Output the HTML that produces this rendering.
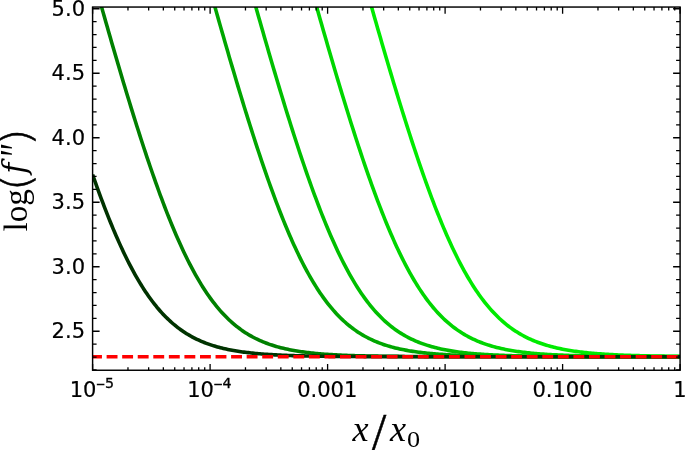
<!DOCTYPE html>
<html><head><meta charset="utf-8"><title>plot</title><style>html,body{margin:0;padding:0;background:#fff}svg{display:block}</style></head><body>
<svg width="685" height="450" viewBox="0 0 685 450">
<rect width="685" height="450" fill="#fff"/>
<defs><clipPath id="c"><rect x="92.60" y="7.05" width="587.50" height="363.20"/></clipPath></defs>
<g clip-path="url(#c)" fill="none" stroke-width="3.6" stroke-linejoin="round">
<path d="M361.38,-29.30 L362.85,-24.03 L364.32,-18.78 L365.79,-13.53 L367.26,-8.30 L368.73,-3.08 L370.19,2.12 L371.66,7.31 L373.13,12.48 L374.60,17.64 L376.07,22.78 L377.54,27.90 L379.01,33.01 L380.48,38.09 L381.94,43.16 L383.41,48.21 L384.88,53.24 L386.35,58.24 L387.82,63.23 L389.29,68.19 L390.76,73.13 L392.23,78.04 L393.69,82.93 L395.16,87.80 L396.63,92.63 L398.10,97.44 L399.57,102.22 L401.04,106.98 L402.51,111.70 L403.98,116.39 L405.44,121.05 L406.91,125.67 L408.38,130.27 L409.85,134.82 L411.32,139.34 L412.79,143.83 L414.26,148.28 L415.73,152.69 L417.19,157.05 L418.66,161.38 L420.13,165.67 L421.60,169.91 L423.07,174.11 L424.54,178.27 L426.01,182.38 L427.48,186.45 L428.94,190.46 L430.41,194.43 L431.88,198.35 L433.35,202.22 L434.82,206.04 L436.29,209.81 L437.76,213.52 L439.23,217.19 L440.69,220.79 L442.16,224.35 L443.63,227.85 L445.10,231.29 L446.57,234.68 L448.04,238.01 L449.51,241.28 L450.98,244.50 L452.44,247.65 L453.91,250.75 L455.38,253.79 L456.85,256.77 L458.32,259.69 L459.79,262.56 L461.26,265.36 L462.73,268.11 L464.19,270.79 L465.66,273.42 L467.13,275.98 L468.60,278.49 L470.07,280.94 L471.54,283.33 L473.01,285.67 L474.48,287.94 L475.94,290.16 L477.41,292.32 L478.88,294.43 L480.35,296.48 L481.82,298.48 L483.29,300.42 L484.76,302.31 L486.23,304.15 L487.69,305.93 L489.16,307.67 L490.63,309.35 L492.10,310.98 L493.57,312.57 L495.04,314.11 L496.51,315.60 L497.98,317.04 L499.44,318.44 L500.91,319.80 L502.38,321.11 L503.85,322.39 L505.32,323.62 L506.79,324.81 L508.26,325.96 L509.73,327.07 L511.19,328.15 L512.66,329.19 L514.13,330.20 L515.60,331.17 L517.07,332.10 L518.54,333.01 L520.01,333.88 L521.48,334.73 L522.94,335.54 L524.41,336.33 L525.88,337.08 L527.35,337.82 L528.82,338.52 L530.29,339.20 L531.76,339.85 L533.23,340.48 L534.69,341.09 L536.16,341.68 L537.63,342.24 L539.10,342.78 L540.57,343.31 L542.04,343.81 L543.51,344.30 L544.98,344.76 L546.44,345.21 L547.91,345.65 L549.38,346.06 L550.85,346.46 L552.32,346.85 L553.79,347.22 L555.26,347.58 L556.73,347.92 L558.19,348.25 L559.66,348.57 L561.13,348.88 L562.60,349.17 L564.07,349.46 L565.54,349.73 L567.01,349.99 L568.48,350.24 L569.94,350.49 L571.41,350.72 L572.88,350.95 L574.35,351.16 L575.82,351.37 L577.29,351.57 L578.76,351.76 L580.23,351.95 L581.69,352.13 L583.16,352.30 L584.63,352.46 L586.10,352.62 L587.57,352.77 L589.04,352.92 L590.51,353.06 L591.98,353.20 L593.44,353.33 L594.91,353.45 L596.38,353.58 L597.85,353.69 L599.32,353.80 L600.79,353.91 L602.26,354.02 L603.73,354.12 L605.19,354.21 L606.66,354.31 L608.13,354.39 L609.60,354.48 L611.07,354.56 L612.54,354.64 L614.01,354.72 L615.48,354.79 L616.94,354.86 L618.41,354.93 L619.88,355.00 L621.35,355.06 L622.82,355.12 L624.29,355.18 L625.76,355.24 L627.23,355.29 L628.69,355.35 L630.16,355.40 L631.63,355.45 L633.10,355.49 L634.57,355.54 L636.04,355.58 L637.51,355.62 L638.98,355.66 L640.44,355.70 L641.91,355.74 L643.38,355.78 L644.85,355.81 L646.32,355.85 L647.79,355.88 L649.26,355.91 L650.73,355.94 L652.19,355.97 L653.66,356.00 L655.13,356.02 L656.60,356.05 L658.07,356.07 L659.54,356.10 L661.01,356.12 L662.48,356.14 L663.94,356.17 L665.41,356.19 L666.88,356.21 L668.35,356.23 L669.82,356.24 L671.29,356.26 L672.76,356.28 L674.23,356.30 L675.69,356.31 L677.16,356.33 L678.63,356.34 L680.10,356.36" stroke="#00eb00"/>
<path d="M307.04,-27.35 L308.51,-22.07 L309.98,-16.81 L311.44,-11.56 L312.91,-6.32 L314.38,-1.10 L315.85,4.11 L317.32,9.30 L318.79,14.48 L320.26,19.64 L321.73,24.79 L323.19,29.92 L324.66,35.03 L326.13,40.12 L327.60,45.20 L329.07,50.25 L330.54,55.28 L332.01,60.30 L333.48,65.29 L334.94,70.25 L336.41,75.20 L337.88,80.12 L339.35,85.02 L340.82,89.88 L342.29,94.73 L343.76,99.54 L345.23,104.33 L346.69,109.09 L348.16,113.81 L349.63,118.51 L351.10,123.17 L352.57,127.81 L354.04,132.40 L355.51,136.96 L356.98,141.49 L358.44,145.98 L359.91,150.43 L361.38,154.84 L362.85,159.21 L364.32,163.55 L365.79,167.84 L367.26,172.08 L368.73,176.29 L370.19,180.44 L371.66,184.56 L373.13,188.62 L374.60,192.64 L376.07,196.61 L377.54,200.53 L379.01,204.40 L380.48,208.22 L381.94,211.98 L383.41,215.70 L384.88,219.36 L386.35,222.96 L387.82,226.51 L389.29,230.01 L390.76,233.45 L392.23,236.83 L393.69,240.15 L395.16,243.42 L396.63,246.63 L398.10,249.78 L399.57,252.87 L401.04,255.90 L402.51,258.87 L403.98,261.79 L405.44,264.64 L406.91,267.43 L408.38,270.16 L409.85,272.84 L411.32,275.45 L412.79,278.01 L414.26,280.50 L415.73,282.94 L417.19,285.31 L418.66,287.63 L420.13,289.89 L421.60,292.10 L423.07,294.24 L424.54,296.33 L426.01,298.37 L427.48,300.35 L428.94,302.27 L430.41,304.14 L431.88,305.96 L433.35,307.73 L434.82,309.44 L436.29,311.11 L437.76,312.72 L439.23,314.29 L440.69,315.81 L442.16,317.28 L443.63,318.70 L445.10,320.08 L446.57,321.42 L448.04,322.71 L449.51,323.96 L450.98,325.17 L452.44,326.34 L453.91,327.47 L455.38,328.56 L456.85,329.62 L458.32,330.64 L459.79,331.62 L461.26,332.57 L462.73,333.49 L464.19,334.37 L465.66,335.23 L467.13,336.05 L468.60,336.84 L470.07,337.61 L471.54,338.34 L473.01,339.05 L474.48,339.74 L475.94,340.39 L477.41,341.03 L478.88,341.64 L480.35,342.23 L481.82,342.79 L483.29,343.34 L484.76,343.86 L486.23,344.36 L487.69,344.85 L489.16,345.31 L490.63,345.76 L492.10,346.19 L493.57,346.61 L495.04,347.00 L496.51,347.39 L497.98,347.76 L499.44,348.11 L500.91,348.45 L502.38,348.78 L503.85,349.09 L505.32,349.39 L506.79,349.68 L508.26,349.96 L509.73,350.23 L511.19,350.48 L512.66,350.73 L514.13,350.96 L515.60,351.19 L517.07,351.41 L518.54,351.62 L520.01,351.82 L521.48,352.01 L522.94,352.20 L524.41,352.38 L525.88,352.55 L527.35,352.71 L528.82,352.87 L530.29,353.02 L531.76,353.17 L533.23,353.31 L534.69,353.44 L536.16,353.57 L537.63,353.69 L539.10,353.81 L540.57,353.92 L542.04,354.03 L543.51,354.14 L544.98,354.24 L546.44,354.33 L547.91,354.43 L549.38,354.52 L550.85,354.60 L552.32,354.68 L553.79,354.76 L555.26,354.84 L556.73,354.91 L558.19,354.98 L559.66,355.05 L561.13,355.11 L562.60,355.17 L564.07,355.23 L565.54,355.29 L567.01,355.34 L568.48,355.40 L569.94,355.45 L571.41,355.50 L572.88,355.54 L574.35,355.59 L575.82,355.63 L577.29,355.67 L578.76,355.71 L580.23,355.75 L581.69,355.79 L583.16,355.82 L584.63,355.86 L586.10,355.89 L587.57,355.92 L589.04,355.95 L590.51,355.98 L591.98,356.01 L593.44,356.03 L594.91,356.06 L596.38,356.08 L597.85,356.11 L599.32,356.13 L600.79,356.15 L602.26,356.17 L603.73,356.19 L605.19,356.21 L606.66,356.23 L608.13,356.25 L609.60,356.27 L611.07,356.28 L612.54,356.30 L614.01,356.32 L615.48,356.33 L616.94,356.34 L618.41,356.36 L619.88,356.37 L621.35,356.38 L622.82,356.40 L624.29,356.41 L625.76,356.42 L627.23,356.43 L628.69,356.44 L630.16,356.45 L631.63,356.46 L633.10,356.47 L634.57,356.48 L636.04,356.49 L637.51,356.50 L638.98,356.51 L640.44,356.51 L641.91,356.52 L643.38,356.53 L644.85,356.54 L646.32,356.54 L647.79,356.55 L649.26,356.55 L650.73,356.56 L652.19,356.57 L653.66,356.57 L655.13,356.58 L656.60,356.58 L658.07,356.59 L659.54,356.59 L661.01,356.60 L662.48,356.60 L663.94,356.61 L665.41,356.61 L666.88,356.61 L668.35,356.62 L669.82,356.62 L671.29,356.63 L672.76,356.63 L674.23,356.63 L675.69,356.64 L677.16,356.64 L678.63,356.64 L680.10,356.64" stroke="#00d600"/>
<path d="M245.35,-30.46 L246.82,-25.18 L248.29,-19.90 L249.76,-14.64 L251.23,-9.39 L252.69,-4.16 L254.16,1.06 L255.63,6.27 L257.10,11.46 L258.57,16.64 L260.04,21.80 L261.51,26.94 L262.98,32.07 L264.44,37.18 L265.91,42.27 L267.38,47.34 L268.85,52.39 L270.32,57.42 L271.79,62.43 L273.26,67.41 L274.73,72.38 L276.19,77.32 L277.66,82.23 L279.13,87.12 L280.60,91.99 L282.07,96.83 L283.54,101.64 L285.01,106.42 L286.48,111.17 L287.94,115.89 L289.41,120.58 L290.88,125.24 L292.35,129.86 L293.82,134.45 L295.29,139.00 L296.76,143.52 L298.23,148.00 L299.69,152.44 L301.16,156.84 L302.63,161.21 L304.10,165.53 L305.57,169.81 L307.04,174.04 L308.51,178.23 L309.98,182.38 L311.44,186.48 L312.91,190.53 L314.38,194.54 L315.85,198.49 L317.32,202.40 L318.79,206.26 L320.26,210.06 L321.73,213.81 L323.19,217.51 L324.66,221.15 L326.13,224.74 L327.60,228.28 L329.07,231.76 L330.54,235.18 L332.01,238.54 L333.48,241.85 L334.94,245.10 L336.41,248.29 L337.88,251.42 L339.35,254.49 L340.82,257.50 L342.29,260.46 L343.76,263.35 L345.23,266.18 L346.69,268.96 L348.16,271.67 L349.63,274.32 L351.10,276.92 L352.57,279.45 L354.04,281.92 L355.51,284.34 L356.98,286.69 L358.44,288.99 L359.91,291.23 L361.38,293.41 L362.85,295.54 L364.32,297.61 L365.79,299.62 L367.26,301.58 L368.73,303.48 L370.19,305.33 L371.66,307.13 L373.13,308.88 L374.60,310.57 L376.07,312.21 L377.54,313.81 L379.01,315.35 L380.48,316.85 L381.94,318.30 L383.41,319.71 L384.88,321.07 L386.35,322.39 L387.82,323.66 L389.29,324.89 L390.76,326.09 L392.23,327.24 L393.69,328.35 L395.16,329.42 L396.63,330.46 L398.10,331.46 L399.57,332.43 L401.04,333.37 L402.51,334.27 L403.98,335.13 L405.44,335.97 L406.91,336.78 L408.38,337.56 L409.85,338.30 L411.32,339.03 L412.79,339.72 L414.26,340.39 L415.73,341.04 L417.19,341.66 L418.66,342.25 L420.13,342.83 L421.60,343.38 L423.07,343.91 L424.54,344.42 L426.01,344.92 L427.48,345.39 L428.94,345.84 L430.41,346.28 L431.88,346.70 L433.35,347.10 L434.82,347.49 L436.29,347.86 L437.76,348.22 L439.23,348.57 L440.69,348.90 L442.16,349.21 L443.63,349.52 L445.10,349.81 L446.57,350.09 L448.04,350.36 L449.51,350.62 L450.98,350.87 L452.44,351.10 L453.91,351.33 L455.38,351.55 L456.85,351.76 L458.32,351.96 L459.79,352.16 L461.26,352.34 L462.73,352.52 L464.19,352.69 L465.66,352.86 L467.13,353.02 L468.60,353.17 L470.07,353.31 L471.54,353.45 L473.01,353.58 L474.48,353.71 L475.94,353.83 L477.41,353.95 L478.88,354.07 L480.35,354.17 L481.82,354.28 L483.29,354.38 L484.76,354.47 L486.23,354.56 L487.69,354.65 L489.16,354.73 L490.63,354.82 L492.10,354.89 L493.57,354.97 L495.04,355.04 L496.51,355.11 L497.98,355.17 L499.44,355.23 L500.91,355.29 L502.38,355.35 L503.85,355.41 L505.32,355.46 L506.79,355.51 L508.26,355.56 L509.73,355.61 L511.19,355.65 L512.66,355.69 L514.13,355.74 L515.60,355.77 L517.07,355.81 L518.54,355.85 L520.01,355.88 L521.48,355.92 L522.94,355.95 L524.41,355.98 L525.88,356.01 L527.35,356.04 L528.82,356.06 L530.29,356.09 L531.76,356.12 L533.23,356.14 L534.69,356.16 L536.16,356.18 L537.63,356.20 L539.10,356.23 L540.57,356.24 L542.04,356.26 L543.51,356.28 L544.98,356.30 L546.44,356.31 L547.91,356.33 L549.38,356.35 L550.85,356.36 L552.32,356.37 L553.79,356.39 L555.26,356.40 L556.73,356.41 L558.19,356.42 L559.66,356.44 L561.13,356.45 L562.60,356.46 L564.07,356.47 L565.54,356.48 L567.01,356.49 L568.48,356.49 L569.94,356.50 L571.41,356.51 L572.88,356.52 L574.35,356.53 L575.82,356.53 L577.29,356.54 L578.76,356.55 L580.23,356.55 L581.69,356.56 L583.16,356.57 L584.63,356.57 L586.10,356.58 L587.57,356.58 L589.04,356.59 L590.51,356.59 L591.98,356.60 L593.44,356.60 L594.91,356.61 L596.38,356.61 L597.85,356.61 L599.32,356.62 L600.79,356.62 L602.26,356.63 L603.73,356.63 L605.19,356.63 L606.66,356.64 L608.13,356.64 L609.60,356.64 L611.07,356.64 L612.54,356.65 L614.01,356.65 L615.48,356.65 L616.94,356.65 L618.41,356.66 L619.88,356.66 L621.35,356.66 L622.82,356.66 L624.29,356.66 L625.76,356.67 L627.23,356.67 L628.69,356.67 L630.16,356.67 L631.63,356.67 L633.10,356.68 L634.57,356.68 L636.04,356.68 L637.51,356.68 L638.98,356.68 L640.44,356.68 L641.91,356.68 L643.38,356.68 L644.85,356.69 L646.32,356.69 L647.79,356.69 L649.26,356.69 L650.73,356.69 L652.19,356.69 L653.66,356.69 L655.13,356.69 L656.60,356.69 L658.07,356.70 L659.54,356.70 L661.01,356.70 L662.48,356.70 L663.94,356.70 L665.41,356.70 L666.88,356.70 L668.35,356.70 L669.82,356.70 L671.29,356.70 L672.76,356.70 L674.23,356.70 L675.69,356.70 L677.16,356.70 L678.63,356.70 L680.10,356.70" stroke="#00bf00"/>
<path d="M204.23,-31.32 L205.69,-26.03 L207.16,-20.75 L208.63,-15.49 L210.10,-10.24 L211.57,-5.00 L213.04,0.23 L214.51,5.44 L215.98,10.63 L217.44,15.81 L218.91,20.98 L220.38,26.12 L221.85,31.25 L223.32,36.37 L224.79,41.46 L226.26,46.54 L227.73,51.59 L229.19,56.63 L230.66,61.64 L232.13,66.63 L233.60,71.60 L235.07,76.55 L236.54,81.47 L238.01,86.36 L239.48,91.23 L240.94,96.08 L242.41,100.89 L243.88,105.68 L245.35,110.44 L246.82,115.16 L248.29,119.86 L249.76,124.52 L251.23,129.15 L252.69,133.75 L254.16,138.31 L255.63,142.84 L257.10,147.32 L258.57,151.77 L260.04,156.18 L261.51,160.56 L262.98,164.89 L264.44,169.17 L265.91,173.42 L267.38,177.62 L268.85,181.77 L270.32,185.88 L271.79,189.94 L273.26,193.96 L274.73,197.92 L276.19,201.84 L277.66,205.71 L279.13,209.52 L280.60,213.28 L282.07,216.99 L283.54,220.65 L285.01,224.25 L286.48,227.79 L287.94,231.28 L289.41,234.71 L290.88,238.09 L292.35,241.40 L293.82,244.66 L295.29,247.87 L296.76,251.01 L298.23,254.09 L299.69,257.11 L301.16,260.08 L302.63,262.98 L304.10,265.83 L305.57,268.61 L307.04,271.33 L308.51,274.00 L309.98,276.60 L311.44,279.14 L312.91,281.63 L314.38,284.05 L315.85,286.42 L317.32,288.73 L318.79,290.98 L320.26,293.17 L321.73,295.31 L323.19,297.38 L324.66,299.41 L326.13,301.37 L327.60,303.29 L329.07,305.15 L330.54,306.95 L332.01,308.71 L333.48,310.41 L334.94,312.06 L336.41,313.66 L337.88,315.22 L339.35,316.72 L340.82,318.18 L342.29,319.59 L343.76,320.96 L345.23,322.28 L346.69,323.57 L348.16,324.80 L349.63,326.00 L351.10,327.16 L352.57,328.28 L354.04,329.36 L355.51,330.40 L356.98,331.41 L358.44,332.38 L359.91,333.32 L361.38,334.22 L362.85,335.10 L364.32,335.94 L365.79,336.75 L367.26,337.53 L368.73,338.28 L370.19,339.01 L371.66,339.71 L373.13,340.38 L374.60,341.03 L376.07,341.65 L377.54,342.25 L379.01,342.83 L380.48,343.38 L381.94,343.92 L383.41,344.43 L384.88,344.93 L386.35,345.40 L387.82,345.86 L389.29,346.30 L390.76,346.72 L392.23,347.12 L393.69,347.51 L395.16,347.89 L396.63,348.25 L398.10,348.59 L399.57,348.92 L401.04,349.24 L402.51,349.55 L403.98,349.84 L405.44,350.12 L406.91,350.39 L408.38,350.65 L409.85,350.90 L411.32,351.14 L412.79,351.37 L414.26,351.59 L415.73,351.80 L417.19,352.00 L418.66,352.19 L420.13,352.38 L421.60,352.56 L423.07,352.73 L424.54,352.90 L426.01,353.05 L427.48,353.20 L428.94,353.35 L430.41,353.49 L431.88,353.62 L433.35,353.75 L434.82,353.87 L436.29,353.99 L437.76,354.10 L439.23,354.21 L440.69,354.31 L442.16,354.41 L443.63,354.51 L445.10,354.60 L446.57,354.69 L448.04,354.77 L449.51,354.85 L450.98,354.93 L452.44,355.00 L453.91,355.07 L455.38,355.14 L456.85,355.21 L458.32,355.27 L459.79,355.33 L461.26,355.39 L462.73,355.44 L464.19,355.49 L465.66,355.54 L467.13,355.59 L468.60,355.64 L470.07,355.68 L471.54,355.73 L473.01,355.77 L474.48,355.81 L475.94,355.84 L477.41,355.88 L478.88,355.91 L480.35,355.95 L481.82,355.98 L483.29,356.01 L484.76,356.04 L486.23,356.07 L487.69,356.09 L489.16,356.12 L490.63,356.14 L492.10,356.17 L493.57,356.19 L495.04,356.21 L496.51,356.23 L497.98,356.25 L499.44,356.27 L500.91,356.29 L502.38,356.30 L503.85,356.32 L505.32,356.34 L506.79,356.35 L508.26,356.37 L509.73,356.38 L511.19,356.40 L512.66,356.41 L514.13,356.42 L515.60,356.43 L517.07,356.44 L518.54,356.45 L520.01,356.47 L521.48,356.48 L522.94,356.49 L524.41,356.49 L525.88,356.50 L527.35,356.51 L528.82,356.52 L530.29,356.53 L531.76,356.54 L533.23,356.54 L534.69,356.55 L536.16,356.56 L537.63,356.56 L539.10,356.57 L540.57,356.57 L542.04,356.58 L543.51,356.59 L544.98,356.59 L546.44,356.60 L547.91,356.60 L549.38,356.60 L550.85,356.61 L552.32,356.61 L553.79,356.62 L555.26,356.62 L556.73,356.62 L558.19,356.63 L559.66,356.63 L561.13,356.64 L562.60,356.64 L564.07,356.64 L565.54,356.64 L567.01,356.65 L568.48,356.65 L569.94,356.65 L571.41,356.65 L572.88,356.66 L574.35,356.66 L575.82,356.66 L577.29,356.66 L578.76,356.67 L580.23,356.67 L581.69,356.67 L583.16,356.67 L584.63,356.67 L586.10,356.67 L587.57,356.68 L589.04,356.68 L590.51,356.68 L591.98,356.68 L593.44,356.68 L594.91,356.68 L596.38,356.68 L597.85,356.69 L599.32,356.69 L600.79,356.69 L602.26,356.69 L603.73,356.69 L605.19,356.69 L606.66,356.69 L608.13,356.69 L609.60,356.69 L611.07,356.69 L612.54,356.70 L614.01,356.70 L615.48,356.70 L616.94,356.70 L618.41,356.70 L619.88,356.70 L621.35,356.70 L622.82,356.70 L624.29,356.70 L625.76,356.70 L627.23,356.70 L628.69,356.70 L630.16,356.70 L631.63,356.70 L633.10,356.70 L634.57,356.70 L636.04,356.71 L637.51,356.71 L638.98,356.71 L640.44,356.71 L641.91,356.71 L643.38,356.71 L644.85,356.71 L646.32,356.71 L647.79,356.71 L649.26,356.71 L650.73,356.71 L652.19,356.71 L653.66,356.71 L655.13,356.71 L656.60,356.71 L658.07,356.71 L659.54,356.71 L661.01,356.71 L662.48,356.71 L663.94,356.71 L665.41,356.71 L666.88,356.71 L668.35,356.71 L669.82,356.71 L671.29,356.71 L672.76,356.71 L674.23,356.71 L675.69,356.71 L677.16,356.71 L678.63,356.71 L680.10,356.71" stroke="#00a600"/>
<path d="M92.60,-25.02 L94.07,-19.74 L95.54,-14.48 L97.01,-9.23 L98.48,-4.00 L99.94,1.23 L101.41,6.43 L102.88,11.63 L104.35,16.81 L105.82,21.97 L107.29,27.11 L108.76,32.24 L110.23,37.35 L111.69,42.44 L113.16,47.51 L114.63,52.57 L116.10,57.60 L117.57,62.61 L119.04,67.60 L120.51,72.56 L121.98,77.50 L123.44,82.42 L124.91,87.31 L126.38,92.18 L127.85,97.02 L129.32,101.83 L130.79,106.61 L132.26,111.37 L133.73,116.09 L135.19,120.78 L136.66,125.44 L138.13,130.06 L139.60,134.65 L141.07,139.21 L142.54,143.73 L144.01,148.21 L145.48,152.65 L146.94,157.06 L148.41,161.42 L149.88,165.75 L151.35,170.03 L152.82,174.26 L154.29,178.46 L155.76,182.60 L157.23,186.71 L158.69,190.76 L160.16,194.77 L161.63,198.72 L163.10,202.63 L164.57,206.49 L166.04,210.29 L167.51,214.05 L168.98,217.75 L170.44,221.39 L171.91,224.98 L173.38,228.52 L174.85,232.00 L176.32,235.42 L177.79,238.79 L179.26,242.09 L180.73,245.34 L182.19,248.53 L183.66,251.67 L185.13,254.74 L186.60,257.75 L188.07,260.70 L189.54,263.60 L191.01,266.43 L192.47,269.20 L193.94,271.92 L195.41,274.57 L196.88,277.16 L198.35,279.70 L199.82,282.17 L201.29,284.58 L202.76,286.94 L204.23,289.24 L205.69,291.48 L207.16,293.66 L208.63,295.78 L210.10,297.85 L211.57,299.86 L213.04,301.82 L214.51,303.72 L215.98,305.57 L217.44,307.37 L218.91,309.11 L220.38,310.81 L221.85,312.45 L223.32,314.04 L224.79,315.59 L226.26,317.08 L227.73,318.53 L229.19,319.94 L230.66,321.30 L232.13,322.61 L233.60,323.88 L235.07,325.11 L236.54,326.30 L238.01,327.45 L239.48,328.56 L240.94,329.64 L242.41,330.67 L243.88,331.67 L245.35,332.64 L246.82,333.57 L248.29,334.47 L249.76,335.33 L251.23,336.17 L252.69,336.97 L254.16,337.75 L255.63,338.50 L257.10,339.22 L258.57,339.91 L260.04,340.58 L261.51,341.22 L262.98,341.84 L264.44,342.43 L265.91,343.00 L267.38,343.55 L268.85,344.08 L270.32,344.59 L271.79,345.08 L273.26,345.55 L274.73,346.01 L276.19,346.44 L277.66,346.86 L279.13,347.26 L280.60,347.65 L282.07,348.02 L283.54,348.37 L285.01,348.71 L286.48,349.04 L287.94,349.36 L289.41,349.66 L290.88,349.95 L292.35,350.23 L293.82,350.50 L295.29,350.75 L296.76,351.00 L298.23,351.24 L299.69,351.46 L301.16,351.68 L302.63,351.89 L304.10,352.09 L305.57,352.28 L307.04,352.46 L308.51,352.64 L309.98,352.81 L311.44,352.97 L312.91,353.13 L314.38,353.28 L315.85,353.42 L317.32,353.56 L318.79,353.69 L320.26,353.82 L321.73,353.94 L323.19,354.05 L324.66,354.17 L326.13,354.27 L327.60,354.37 L329.07,354.47 L330.54,354.57 L332.01,354.66 L333.48,354.74 L334.94,354.83 L336.41,354.90 L337.88,354.98 L339.35,355.05 L340.82,355.12 L342.29,355.19 L343.76,355.25 L345.23,355.32 L346.69,355.37 L348.16,355.43 L349.63,355.48 L351.10,355.54 L352.57,355.59 L354.04,355.63 L355.51,355.68 L356.98,355.72 L358.44,355.76 L359.91,355.80 L361.38,355.84 L362.85,355.88 L364.32,355.91 L365.79,355.95 L367.26,355.98 L368.73,356.01 L370.19,356.04 L371.66,356.07 L373.13,356.10 L374.60,356.12 L376.07,356.15 L377.54,356.17 L379.01,356.19 L380.48,356.22 L381.94,356.24 L383.41,356.26 L384.88,356.28 L386.35,356.29 L387.82,356.31 L389.29,356.33 L390.76,356.35 L392.23,356.36 L393.69,356.38 L395.16,356.39 L396.63,356.40 L398.10,356.42 L399.57,356.43 L401.04,356.44 L402.51,356.45 L403.98,356.46 L405.44,356.48 L406.91,356.49 L408.38,356.49 L409.85,356.50 L411.32,356.51 L412.79,356.52 L414.26,356.53 L415.73,356.54 L417.19,356.55 L418.66,356.55 L420.13,356.56 L421.60,356.57 L423.07,356.57 L424.54,356.58 L426.01,356.58 L427.48,356.59 L428.94,356.59 L430.41,356.60 L431.88,356.60 L433.35,356.61 L434.82,356.61 L436.29,356.62 L437.76,356.62 L439.23,356.63 L440.69,356.63 L442.16,356.63 L443.63,356.64 L445.10,356.64 L446.57,356.64 L448.04,356.65 L449.51,356.65 L450.98,356.65 L452.44,356.65 L453.91,356.66 L455.38,356.66 L456.85,356.66 L458.32,356.66 L459.79,356.67 L461.26,356.67 L462.73,356.67 L464.19,356.67 L465.66,356.67 L467.13,356.68 L468.60,356.68 L470.07,356.68 L471.54,356.68 L473.01,356.68 L474.48,356.68 L475.94,356.69 L477.41,356.69 L478.88,356.69 L480.35,356.69 L481.82,356.69 L483.29,356.69 L484.76,356.69 L486.23,356.69 L487.69,356.69 L489.16,356.70 L490.63,356.70 L492.10,356.70 L493.57,356.70 L495.04,356.70 L496.51,356.70 L497.98,356.70 L499.44,356.70 L500.91,356.70 L502.38,356.70 L503.85,356.70 L505.32,356.70 L506.79,356.70 L508.26,356.70 L509.73,356.70 L511.19,356.71 L512.66,356.71 L514.13,356.71 L515.60,356.71 L517.07,356.71 L518.54,356.71 L520.01,356.71 L521.48,356.71 L522.94,356.71 L524.41,356.71 L525.88,356.71 L527.35,356.71 L528.82,356.71 L530.29,356.71 L531.76,356.71 L533.23,356.71 L534.69,356.71 L536.16,356.71 L537.63,356.71 L539.10,356.71 L540.57,356.71 L542.04,356.71 L543.51,356.71 L544.98,356.71 L546.44,356.71 L547.91,356.71 L549.38,356.71 L550.85,356.71 L552.32,356.71 L553.79,356.71 L555.26,356.71 L556.73,356.71 L558.19,356.71 L559.66,356.71 L561.13,356.71 L562.60,356.71 L564.07,356.71 L565.54,356.71 L567.01,356.71 L568.48,356.71 L569.94,356.71 L571.41,356.71 L572.88,356.71 L574.35,356.71 L575.82,356.71 L577.29,356.71 L578.76,356.71 L580.23,356.71 L581.69,356.71 L583.16,356.71 L584.63,356.71 L586.10,356.72 L587.57,356.72 L589.04,356.72 L590.51,356.72 L591.98,356.72 L593.44,356.72 L594.91,356.72 L596.38,356.72 L597.85,356.72 L599.32,356.72 L600.79,356.72 L602.26,356.72 L603.73,356.72 L605.19,356.72 L606.66,356.72 L608.13,356.72 L609.60,356.72 L611.07,356.72 L612.54,356.72 L614.01,356.72 L615.48,356.72 L616.94,356.72 L618.41,356.72 L619.88,356.72 L621.35,356.72 L622.82,356.72 L624.29,356.72 L625.76,356.72 L627.23,356.72 L628.69,356.72 L630.16,356.72 L631.63,356.72 L633.10,356.72 L634.57,356.72 L636.04,356.72 L637.51,356.72 L638.98,356.72 L640.44,356.72 L641.91,356.72 L643.38,356.72 L644.85,356.72 L646.32,356.72 L647.79,356.72 L649.26,356.72 L650.73,356.72 L652.19,356.72 L653.66,356.72 L655.13,356.72 L656.60,356.72 L658.07,356.72 L659.54,356.72 L661.01,356.72 L662.48,356.72 L663.94,356.72 L665.41,356.72 L666.88,356.72 L668.35,356.72 L669.82,356.72 L671.29,356.72 L672.76,356.72 L674.23,356.72 L675.69,356.72 L677.16,356.72 L678.63,356.72 L680.10,356.72" stroke="#008000"/>
<path d="M92.60,174.64 L94.07,178.83 L95.54,182.97 L97.01,187.07 L98.48,191.12 L99.94,195.12 L101.41,199.07 L102.88,202.98 L104.35,206.83 L105.82,210.63 L107.29,214.38 L108.76,218.07 L110.23,221.71 L111.69,225.30 L113.16,228.83 L114.63,232.31 L116.10,235.72 L117.57,239.08 L119.04,242.39 L120.51,245.63 L121.98,248.82 L123.44,251.94 L124.91,255.01 L126.38,258.02 L127.85,260.97 L129.32,263.86 L130.79,266.68 L132.26,269.45 L133.73,272.16 L135.19,274.81 L136.66,277.39 L138.13,279.92 L139.60,282.39 L141.07,284.80 L142.54,287.15 L144.01,289.44 L145.48,291.68 L146.94,293.85 L148.41,295.97 L149.88,298.04 L151.35,300.05 L152.82,302.00 L154.29,303.90 L155.76,305.74 L157.23,307.53 L158.69,309.27 L160.16,310.96 L161.63,312.60 L163.10,314.19 L164.57,315.73 L166.04,317.22 L167.51,318.66 L168.98,320.06 L170.44,321.42 L171.91,322.73 L173.38,324.00 L174.85,325.23 L176.32,326.41 L177.79,327.56 L179.26,328.67 L180.73,329.74 L182.19,330.77 L183.66,331.77 L185.13,332.73 L186.60,333.66 L188.07,334.55 L189.54,335.41 L191.01,336.25 L192.47,337.05 L193.94,337.82 L195.41,338.57 L196.88,339.28 L198.35,339.97 L199.82,340.64 L201.29,341.28 L202.76,341.90 L204.23,342.49 L205.69,343.06 L207.16,343.61 L208.63,344.14 L210.10,344.64 L211.57,345.13 L213.04,345.60 L214.51,346.05 L215.98,346.48 L217.44,346.90 L218.91,347.30 L220.38,347.68 L221.85,348.05 L223.32,348.41 L224.79,348.75 L226.26,349.08 L227.73,349.39 L229.19,349.69 L230.66,349.98 L232.13,350.26 L233.60,350.52 L235.07,350.78 L236.54,351.02 L238.01,351.26 L239.48,351.49 L240.94,351.70 L242.41,351.91 L243.88,352.11 L245.35,352.30 L246.82,352.48 L248.29,352.66 L249.76,352.83 L251.23,352.99 L252.69,353.15 L254.16,353.30 L255.63,353.44 L257.10,353.57 L258.57,353.71 L260.04,353.83 L261.51,353.95 L262.98,354.07 L264.44,354.18 L265.91,354.28 L267.38,354.39 L268.85,354.48 L270.32,354.58 L271.79,354.67 L273.26,354.75 L274.73,354.84 L276.19,354.91 L277.66,354.99 L279.13,355.06 L280.60,355.13 L282.07,355.20 L283.54,355.26 L285.01,355.32 L286.48,355.38 L287.94,355.44 L289.41,355.49 L290.88,355.54 L292.35,355.59 L293.82,355.64 L295.29,355.68 L296.76,355.73 L298.23,355.77 L299.69,355.81 L301.16,355.85 L302.63,355.88 L304.10,355.92 L305.57,355.95 L307.04,355.99 L308.51,356.02 L309.98,356.05 L311.44,356.07 L312.91,356.10 L314.38,356.13 L315.85,356.15 L317.32,356.18 L318.79,356.20 L320.26,356.22 L321.73,356.24 L323.19,356.26 L324.66,356.28 L326.13,356.30 L327.60,356.32 L329.07,356.33 L330.54,356.35 L332.01,356.36 L333.48,356.38 L334.94,356.39 L336.41,356.41 L337.88,356.42 L339.35,356.43 L340.82,356.44 L342.29,356.46 L343.76,356.47 L345.23,356.48 L346.69,356.49 L348.16,356.50 L349.63,356.51 L351.10,356.52 L352.57,356.52 L354.04,356.53 L355.51,356.54 L356.98,356.55 L358.44,356.55 L359.91,356.56 L361.38,356.57 L362.85,356.57 L364.32,356.58 L365.79,356.59 L367.26,356.59 L368.73,356.60 L370.19,356.60 L371.66,356.61 L373.13,356.61 L374.60,356.62 L376.07,356.62 L377.54,356.62 L379.01,356.63 L380.48,356.63 L381.94,356.64 L383.41,356.64 L384.88,356.64 L386.35,356.64 L387.82,356.65 L389.29,356.65 L390.76,356.65 L392.23,356.66 L393.69,356.66 L395.16,356.66 L396.63,356.66 L398.10,356.67 L399.57,356.67 L401.04,356.67 L402.51,356.67 L403.98,356.67 L405.44,356.68 L406.91,356.68 L408.38,356.68 L409.85,356.68 L411.32,356.68 L412.79,356.68 L414.26,356.68 L415.73,356.69 L417.19,356.69 L418.66,356.69 L420.13,356.69 L421.60,356.69 L423.07,356.69 L424.54,356.69 L426.01,356.69 L427.48,356.69 L428.94,356.70 L430.41,356.70 L431.88,356.70 L433.35,356.70 L434.82,356.70 L436.29,356.70 L437.76,356.70 L439.23,356.70 L440.69,356.70 L442.16,356.70 L443.63,356.70 L445.10,356.70 L446.57,356.70 L448.04,356.70 L449.51,356.71 L450.98,356.71 L452.44,356.71 L453.91,356.71 L455.38,356.71 L456.85,356.71 L458.32,356.71 L459.79,356.71 L461.26,356.71 L462.73,356.71 L464.19,356.71 L465.66,356.71 L467.13,356.71 L468.60,356.71 L470.07,356.71 L471.54,356.71 L473.01,356.71 L474.48,356.71 L475.94,356.71 L477.41,356.71 L478.88,356.71 L480.35,356.71 L481.82,356.71 L483.29,356.71 L484.76,356.71 L486.23,356.71 L487.69,356.71 L489.16,356.71 L490.63,356.71 L492.10,356.71 L493.57,356.71 L495.04,356.71 L496.51,356.71 L497.98,356.71 L499.44,356.71 L500.91,356.71 L502.38,356.71 L503.85,356.71 L505.32,356.71 L506.79,356.71 L508.26,356.71 L509.73,356.71 L511.19,356.71 L512.66,356.71 L514.13,356.71 L515.60,356.71 L517.07,356.71 L518.54,356.71 L520.01,356.72 L521.48,356.72 L522.94,356.72 L524.41,356.72 L525.88,356.72 L527.35,356.72 L528.82,356.72 L530.29,356.72 L531.76,356.72 L533.23,356.72 L534.69,356.72 L536.16,356.72 L537.63,356.72 L539.10,356.72 L540.57,356.72 L542.04,356.72 L543.51,356.72 L544.98,356.72 L546.44,356.72 L547.91,356.72 L549.38,356.72 L550.85,356.72 L552.32,356.72 L553.79,356.72 L555.26,356.72 L556.73,356.72 L558.19,356.72 L559.66,356.72 L561.13,356.72 L562.60,356.72 L564.07,356.72 L565.54,356.72 L567.01,356.72 L568.48,356.72 L569.94,356.72 L571.41,356.72 L572.88,356.72 L574.35,356.72 L575.82,356.72 L577.29,356.72 L578.76,356.72 L580.23,356.72 L581.69,356.72 L583.16,356.72 L584.63,356.72 L586.10,356.72 L587.57,356.72 L589.04,356.72 L590.51,356.72 L591.98,356.72 L593.44,356.72 L594.91,356.72 L596.38,356.72 L597.85,356.72 L599.32,356.72 L600.79,356.72 L602.26,356.72 L603.73,356.72 L605.19,356.72 L606.66,356.72 L608.13,356.72 L609.60,356.72 L611.07,356.72 L612.54,356.72 L614.01,356.72 L615.48,356.72 L616.94,356.72 L618.41,356.72 L619.88,356.72 L621.35,356.72 L622.82,356.72 L624.29,356.72 L625.76,356.72 L627.23,356.72 L628.69,356.72 L630.16,356.72 L631.63,356.72 L633.10,356.72 L634.57,356.72 L636.04,356.72 L637.51,356.72 L638.98,356.72 L640.44,356.72 L641.91,356.72 L643.38,356.72 L644.85,356.72 L646.32,356.72 L647.79,356.72 L649.26,356.72 L650.73,356.72 L652.19,356.72 L653.66,356.72 L655.13,356.72 L656.60,356.72 L658.07,356.72 L659.54,356.72 L661.01,356.72 L662.48,356.72 L663.94,356.72 L665.41,356.72 L666.88,356.72 L668.35,356.72 L669.82,356.72 L671.29,356.72 L672.76,356.72 L674.23,356.72 L675.69,356.72 L677.16,356.72 L678.63,356.72 L680.10,356.72" stroke="#003300"/>
<path d="M92.60,356.72 H682.10" stroke="#f00" stroke-width="3.6" stroke-dasharray="10.9 4.66" stroke-dashoffset="1.55"/>
</g>
<path d="M92.60,369.95 h4.0 M680.10,369.95 h-4.0 M92.60,357.05 h4.0 M680.10,357.05 h-4.0 M92.60,344.15 h4.0 M680.10,344.15 h-4.0 M92.60,331.25 h7.0 M680.10,331.25 h-7.0 M92.60,318.35 h4.0 M680.10,318.35 h-4.0 M92.60,305.45 h4.0 M680.10,305.45 h-4.0 M92.60,292.55 h4.0 M680.10,292.55 h-4.0 M92.60,279.65 h4.0 M680.10,279.65 h-4.0 M92.60,266.75 h7.0 M680.10,266.75 h-7.0 M92.60,253.85 h4.0 M680.10,253.85 h-4.0 M92.60,240.95 h4.0 M680.10,240.95 h-4.0 M92.60,228.05 h4.0 M680.10,228.05 h-4.0 M92.60,215.15 h4.0 M680.10,215.15 h-4.0 M92.60,202.25 h7.0 M680.10,202.25 h-7.0 M92.60,189.35 h4.0 M680.10,189.35 h-4.0 M92.60,176.45 h4.0 M680.10,176.45 h-4.0 M92.60,163.55 h4.0 M680.10,163.55 h-4.0 M92.60,150.65 h4.0 M680.10,150.65 h-4.0 M92.60,137.75 h7.0 M680.10,137.75 h-7.0 M92.60,124.85 h4.0 M680.10,124.85 h-4.0 M92.60,111.95 h4.0 M680.10,111.95 h-4.0 M92.60,99.05 h4.0 M680.10,99.05 h-4.0 M92.60,86.15 h4.0 M680.10,86.15 h-4.0 M92.60,73.25 h7.0 M680.10,73.25 h-7.0 M92.60,60.35 h4.0 M680.10,60.35 h-4.0 M92.60,47.45 h4.0 M680.10,47.45 h-4.0 M92.60,34.55 h4.0 M680.10,34.55 h-4.0 M92.60,21.65 h4.0 M680.10,21.65 h-4.0 M92.60,8.75 h7.0 M680.10,8.75 h-7.0 M92.60,370.25 v-6.2 M92.60,7.05 v6.6 M127.97,370.25 v-3.0 M127.97,7.05 v3.4 M148.66,370.25 v-3.0 M148.66,7.05 v3.4 M163.34,370.25 v-3.0 M163.34,7.05 v3.4 M174.73,370.25 v-3.0 M174.73,7.05 v3.4 M184.03,370.25 v-3.0 M184.03,7.05 v3.4 M191.90,370.25 v-3.0 M191.90,7.05 v3.4 M198.71,370.25 v-3.0 M198.71,7.05 v3.4 M204.72,370.25 v-3.0 M204.72,7.05 v3.4 M210.10,370.25 v-6.2 M210.10,7.05 v6.6 M245.47,370.25 v-3.0 M245.47,7.05 v3.4 M266.16,370.25 v-3.0 M266.16,7.05 v3.4 M280.84,370.25 v-3.0 M280.84,7.05 v3.4 M292.23,370.25 v-3.0 M292.23,7.05 v3.4 M301.53,370.25 v-3.0 M301.53,7.05 v3.4 M309.40,370.25 v-3.0 M309.40,7.05 v3.4 M316.21,370.25 v-3.0 M316.21,7.05 v3.4 M322.22,370.25 v-3.0 M322.22,7.05 v3.4 M327.60,370.25 v-6.2 M327.60,7.05 v6.6 M362.97,370.25 v-3.0 M362.97,7.05 v3.4 M383.66,370.25 v-3.0 M383.66,7.05 v3.4 M398.34,370.25 v-3.0 M398.34,7.05 v3.4 M409.73,370.25 v-3.0 M409.73,7.05 v3.4 M419.03,370.25 v-3.0 M419.03,7.05 v3.4 M426.90,370.25 v-3.0 M426.90,7.05 v3.4 M433.71,370.25 v-3.0 M433.71,7.05 v3.4 M439.72,370.25 v-3.0 M439.72,7.05 v3.4 M445.10,370.25 v-6.2 M445.10,7.05 v6.6 M480.47,370.25 v-3.0 M480.47,7.05 v3.4 M501.16,370.25 v-3.0 M501.16,7.05 v3.4 M515.84,370.25 v-3.0 M515.84,7.05 v3.4 M527.23,370.25 v-3.0 M527.23,7.05 v3.4 M536.53,370.25 v-3.0 M536.53,7.05 v3.4 M544.40,370.25 v-3.0 M544.40,7.05 v3.4 M551.21,370.25 v-3.0 M551.21,7.05 v3.4 M557.22,370.25 v-3.0 M557.22,7.05 v3.4 M562.60,370.25 v-6.2 M562.60,7.05 v6.6 M597.97,370.25 v-3.0 M597.97,7.05 v3.4 M618.66,370.25 v-3.0 M618.66,7.05 v3.4 M633.34,370.25 v-3.0 M633.34,7.05 v3.4 M644.73,370.25 v-3.0 M644.73,7.05 v3.4 M654.03,370.25 v-3.0 M654.03,7.05 v3.4 M661.90,370.25 v-3.0 M661.90,7.05 v3.4 M668.71,370.25 v-3.0 M668.71,7.05 v3.4 M674.72,370.25 v-3.0 M674.72,7.05 v3.4 M680.10,370.25 v-6.2 M680.10,7.05 v6.6" stroke="#000" stroke-width="1.3" fill="none"/>
<rect x="92.60" y="7.05" width="587.50" height="363.20" fill="none" stroke="#000" stroke-width="1.45"/>
<g font-family="'DejaVu Sans', 'Liberation Sans', sans-serif" font-size="21" fill="#000" stroke="#000" stroke-width="0.2">
<text x="85.0" y="338.35" text-anchor="end">2.5</text>
<text x="85.0" y="273.85" text-anchor="end">3.0</text>
<text x="85.0" y="209.35" text-anchor="end">3.5</text>
<text x="85.0" y="144.85" text-anchor="end">4.0</text>
<text x="85.0" y="80.35" text-anchor="end">4.5</text>
<text x="85.0" y="15.85" text-anchor="end">5.0</text>
<text x="327.20" y="396.8" text-anchor="middle">0.001</text>
<text x="444.70" y="396.8" text-anchor="middle">0.010</text>
<text x="562.50" y="396.8" text-anchor="middle">0.100</text>
<text x="680.00" y="396.8" text-anchor="middle">1</text>
<g><text x="69.70" y="396.8">10</text><text x="95.90" y="387.5" font-size="11" stroke-width="0.7">−</text><text transform="translate(105.00,387.6) scale(0.955,1)" font-size="14.9" stroke-width="0.35">5</text></g>
<g><text x="187.20" y="396.8">10</text><text x="213.40" y="387.5" font-size="11" stroke-width="0.7">−</text><text transform="translate(222.50,387.6) scale(0.955,1)" font-size="14.9" stroke-width="0.35">4</text></g>
</g>
<g fill="#000">
<g><text transform="translate(26.70,231.52) rotate(-90) scale(0.960,1)" font-family="'Liberation Serif', serif" font-size="34.5" font-style="normal">log</text><text transform="translate(30.10,190.95) rotate(-90) scale(1.100,1)" font-family="'DejaVu Sans Light', 'DejaVu Sans', 'Liberation Sans', sans-serif" font-size="40" font-style="normal" stroke="#000" stroke-width="0.5">(</text><text transform="translate(25.20,173.64) rotate(-90) scale(0.925,1)" font-family="'DejaVu Serif', 'Liberation Serif', serif" font-size="32.5" font-style="italic">f</text><text transform="translate(32.20,156.59) rotate(-90) scale(0.700,1)" font-family="'Liberation Serif', serif" font-size="47" font-style="normal">″</text><text transform="translate(30.10,145.65) rotate(-90) scale(1.100,1)" font-family="'DejaVu Sans Light', 'DejaVu Sans', 'Liberation Sans', sans-serif" font-size="40" font-style="normal" stroke="#000" stroke-width="0.5">)</text></g>
<g><text x="352.4" y="441.4" font-family="'Liberation Serif', serif" font-size="36.2" font-style="italic">x</text><text transform="translate(371.2,446.1) scale(1.1,1)" font-family="'DejaVu Sans Light', 'DejaVu Sans', 'Liberation Sans', sans-serif" font-size="42.4" stroke="#000" stroke-width="0.45">/</text><text x="390.0" y="441.4" font-family="'Liberation Serif', serif" font-size="36.2" font-style="italic">x</text><text transform="translate(406.95,446.6) scale(1.12,1)" font-family="'Liberation Serif', serif" font-size="23.4">0</text></g>
</g>
</svg>
</body></html>
